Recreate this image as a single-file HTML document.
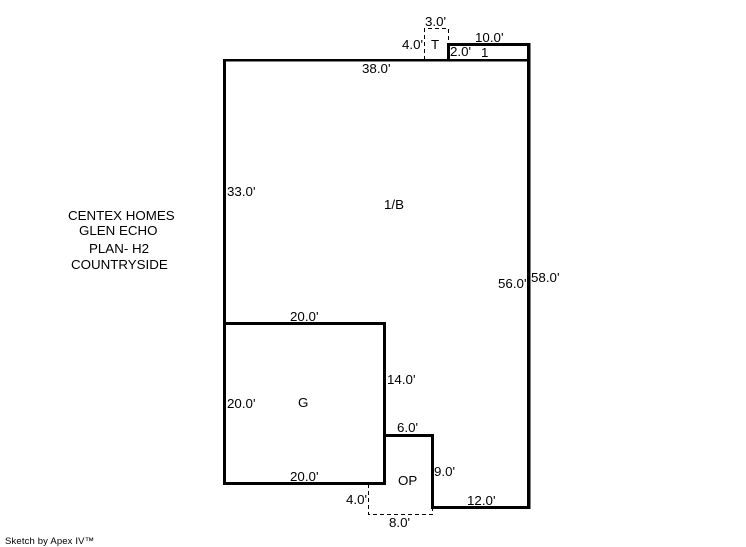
<!DOCTYPE html>
<html>
<head>
<meta charset="utf-8">
<style>
html,body{margin:0;padding:0;background:#fff;width:746px;height:547px;overflow:hidden}
svg{display:block}
text{font-family:"Liberation Sans",Arial,sans-serif;font-size:13.33px;fill:#000;letter-spacing:0}
</style>
</head>
<body>
<svg width="746" height="547" viewBox="0 0 746 547" xmlns="http://www.w3.org/2000/svg">
<g fill="none" stroke="#000" stroke-width="1" stroke-dasharray="4 3">
<path d="M424.5 60V28.5H448.5V44"/>
<path d="M368.5 484V514.5H432.5V507"/>
</g>
<g fill="#000" stroke="none">
<!-- main outline -->
<rect x="223" y="59" width="3" height="426"/>
<rect x="223" y="59" width="306" height="2.5"/>
<rect x="527" y="43" width="3.5" height="466"/>
<rect x="431" y="506" width="99.5" height="3"/>
<rect x="431" y="434" width="3" height="75"/>
<rect x="383" y="434" width="51" height="3"/>
<!-- top bump -->
<rect x="447" y="43" width="83.5" height="3"/>
<rect x="447" y="43" width="3" height="18"/>
<!-- garage -->
<rect x="223" y="322" width="163" height="3"/>
<rect x="383" y="322" width="3" height="163"/>
<rect x="223" y="482" width="163" height="3"/>
</g>
<text x="425" y="26">3.0'</text>
<text x="402" y="49">4.0'</text>
<text x="431" y="49">T</text>
<text x="475" y="42">10.0'</text>
<text x="450" y="56">2.0'</text>
<text x="481" y="57">1</text>
<text x="362" y="73">38.0'</text>
<text x="227" y="196">33.0'</text>
<text x="384" y="209">1/B</text>
<text x="68" y="220">CENTEX HOMES</text>
<text x="79" y="235">GLEN ECHO</text>
<text x="89" y="253">PLAN- H2</text>
<text x="71" y="269">COUNTRYSIDE</text>
<text x="531" y="282">58.0'</text>
<text x="498" y="288">56.0'</text>
<text x="290" y="321">20.0'</text>
<text x="387" y="384">14.0'</text>
<text x="227" y="408">20.0'</text>
<text x="298" y="407">G</text>
<text x="397" y="432">6.0'</text>
<text x="434" y="476">9.0'</text>
<text x="290" y="481">20.0'</text>
<text x="398" y="485">OP</text>
<text x="467" y="505">12.0'</text>
<text x="346" y="504">4.0'</text>
<text x="389" y="527">8.0'</text>
<text x="5" y="544" style="font-size:9.5px;letter-spacing:0.15px">Sketch by Apex IV™</text>
</svg>
</body>
</html>
